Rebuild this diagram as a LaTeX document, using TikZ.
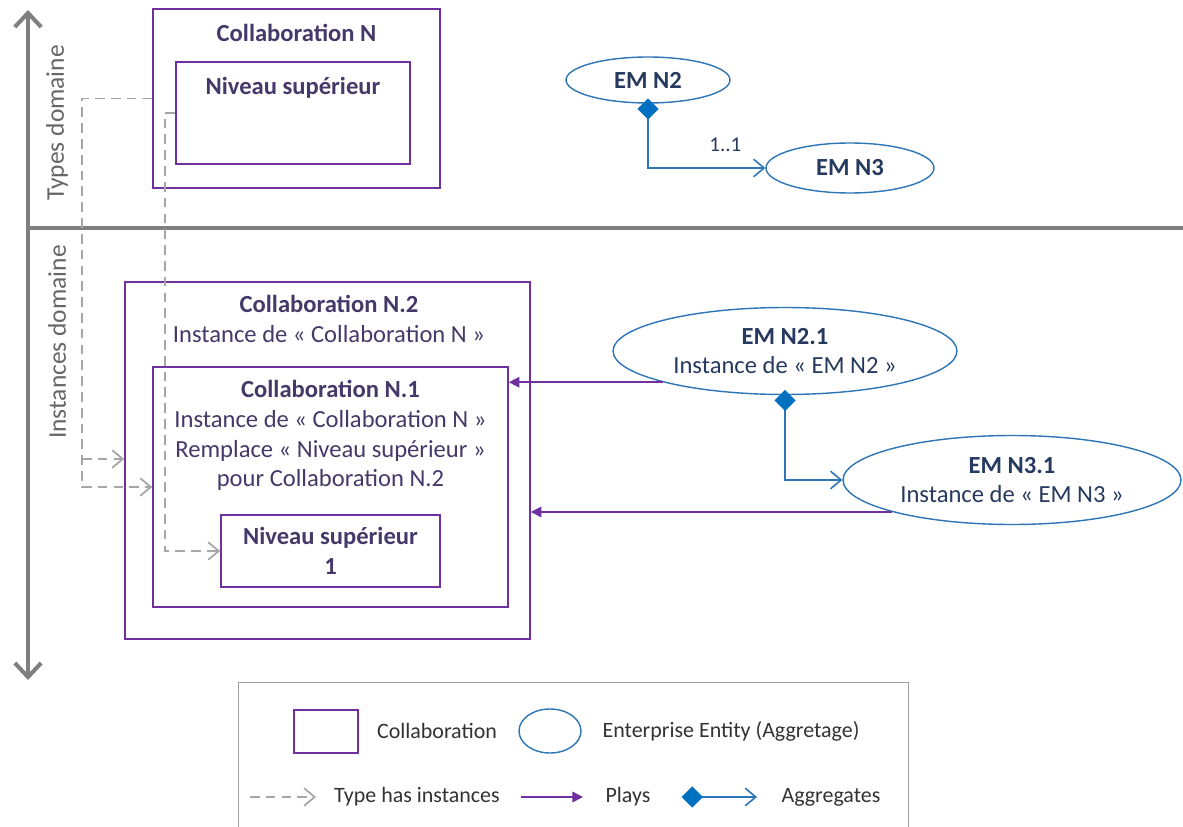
\documentclass[tikz,border=0pt]{standalone}
\usepackage{fontspec}
\setmainfont{Carlito}
\usetikzlibrary{arrows.meta, shapes.geometric, positioning}
\definecolor{collabpurple}{HTML}{7030A0}
\definecolor{collabtext}{HTML}{45396A}
\definecolor{emblue}{HTML}{2E75B6}
\definecolor{aggblue}{HTML}{0070C0}
\definecolor{emtext}{HTML}{26395E}
\definecolor{axisgray}{HTML}{7F7F7F}
\definecolor{domaintext}{HTML}{666666}
\definecolor{dashgray}{HTML}{A6A6A6}
\definecolor{legendgray}{HTML}{A0A0A0}
\definecolor{legendtext}{HTML}{333333}

\begin{document}
\begin{tikzpicture}[x=0.02cm, y=-0.02cm,
  collab/.style={draw=collabpurple, line width=1pt, inner sep=0pt},
  entity/.style={ellipse, draw=emblue, line width=0.8pt, inner sep=0pt, align=center, text=emtext, font=\fontsize{14}{16.5}\selectfont},
  boxtext/.style={align=center, text=collabtext, font=\fontsize{14}{17}\selectfont},
  boxtitle/.style={boxtext, font=\fontsize{14}{17}\selectfont\bfseries},
  domainlabel/.style={rotate=90, text=domaintext, font=\fontsize{14.5}{17}\selectfont},
  typeinst/.style={draw=dashgray, line width=1pt, dash pattern=on 5.5pt off 3.5pt, -{Straight Barb[length=6pt,width=10pt]}},
  plays/.style={draw=collabpurple, line width=0.9pt, -{Triangle[length=6pt,width=6pt]}},
  aggreg/.style={draw=emblue, line width=0.9pt, shorten <=-3pt, {Diamond[length=12pt,width=12pt,fill=aggblue,color=aggblue]}-{Straight Barb[length=6pt,width=10pt]}},
  legtext/.style={text=legendtext, font=\fontsize{12.5}{15}\selectfont},
  ]
  \useasboundingbox[fill=white] (0,0) rectangle (1183,827);
  \clip (0,0) rectangle (1183,827);

  % Axes
  \coordinate (axtop) at (28,10);
  \coordinate (axbot) at (28,680);
  \coordinate (sepleft) at (28,228);
  \coordinate (sepright) at (1183,228);
  \draw[axisgray, line width=2.3pt, {Straight Barb[length=8pt,width=15pt]}-{Straight Barb[length=8pt,width=15pt]}] (axbot) -- (axtop);
  \draw[axisgray, line width=2.3pt] (sepleft) -- (sepright);
  \node[domainlabel] (typesdom) at (57,123) {Types domaine};
  \node[domainlabel] (instdom) at (57,342) {Instances domaine};

  % Types domaine
  \node[collab, minimum width=5.74cm, minimum height=3.58cm] (collabN) at (296.5,98.5) {};
  \node[boxtitle] (collabNtitle) at (296.5,33) {Collaboration N};
  \node[collab, minimum width=4.68cm, minimum height=2.04cm] (nivSup) at (293,113) {};
  \node[boxtitle] (nivSuptitle) at (293,88) {Niveau supérieur};

  \node[entity, minimum width=3.28cm, minimum height=0.92cm, font=\fontsize{14}{16.5}\selectfont\bfseries] (emN2) at (648,80) {EM N2};
  \node[entity, minimum width=3.36cm, minimum height=1cm, font=\fontsize{14}{16.5}\selectfont\bfseries] (emN3) at (850,168) {EM N3};
  \draw[aggreg] (emN2.south) |- (emN3.west) node[pos=0.83, above=0.2cm, text=emtext, font=\fontsize{12}{14}\selectfont] (card) {1..1};

  % Instances domaine
  \node[collab, minimum width=8.10cm, minimum height=7.14cm] (collabN2) at (327.5,460.5) {};
  \node[boxtext] (collabN2text) at (329,319) {\textbf{Collaboration N.2}\\Instance de « Collaboration N »};
  \node[collab, minimum width=7.10cm, minimum height=4.80cm] (collabN1) at (330.5,487) {};
  \node[boxtext] (collabN1text) at (330.5,435.5) {\textbf{Collaboration N.1}\\Instance de « Collaboration N »\\Remplace « Niveau supérieur »\\pour Collaboration N.2};
  \node[collab, boxtitle, minimum width=4.38cm, minimum height=1.44cm] (nivSup1) at (330.5,551) {Niveau supérieur\\1};

  \node[entity, minimum width=6.88cm, minimum height=1.74cm] (emN21) at (785,351) {\textbf{EM N2.1}\\Instance de « EM N2 »};
  \node[entity, minimum width=6.76cm, minimum height=1.78cm] (emN31) at (1012,480) {\textbf{EM N3.1}\\Instance de « EM N3 »};
  \draw[aggreg] (emN21.south) |- (emN31.west);
  \draw[plays] (emN21.south west) -- (emN21.south west -| collabN1.east);
  \draw[plays] (emN31.south west) -- (emN31.south west -| collabN2.east);

  % Type has instances
  \coordinate (tcorner) at (82,487);
  \coordinate (tbranch) at (82,459);
  \coordinate (ncorner) at (165,551);
  \draw[typeinst] (collabN.west) -| (tcorner) -- (collabN1.west);
  \draw[typeinst] (tbranch) -- (tbranch -| collabN2.west);
  \draw[typeinst] (nivSup.west) -| (ncorner) -- (nivSup1.west);

  % Legende
  \node[draw=legendgray, line width=0.8pt, minimum width=13.4cm, minimum height=3.2cm, anchor=north west] (legend) at (238,682) {};
  \node[collab, minimum width=1.28cm, minimum height=0.86cm] (legCollab) at (326,731.5) {};
  \node[legtext] (legCollabtext) at (437,731) {Collaboration};
  \node[entity, minimum width=1.24cm, minimum height=0.88cm] (legEm) at (550,731) {};
  \node[legtext] (legEmtext) at (731,731) {Enterprise Entity (Aggretage)};
  \coordinate (legTs) at (250,797);
  \coordinate (legTe) at (316,797);
  \draw[typeinst] (legTs) -- (legTe);
  \node[legtext] (legTypetext) at (417,797) {Type has instances};
  \coordinate (legPs) at (521,797);
  \coordinate (legPe) at (583,797);
  \draw[plays] (legPs) -- (legPe);
  \node[legtext] (legPlaystext) at (628,797) {Plays};
  \coordinate (legAs) at (687,797);
  \coordinate (legAe) at (757,797);
  \draw[aggreg] (legAs) -- (legAe);
  \node[legtext] (legAggtext) at (831,797) {Aggregates};
\end{tikzpicture}
\end{document}
